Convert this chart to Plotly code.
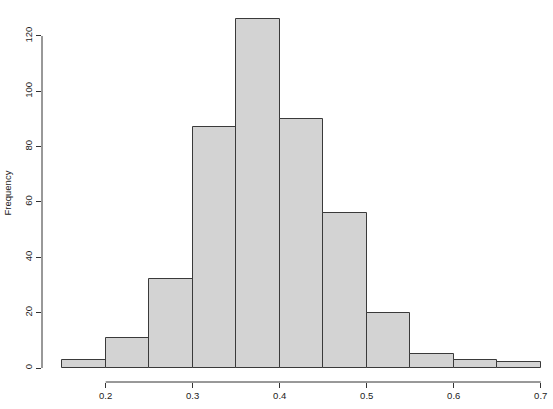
import plotly.graph_objects as go

bin_edges = [0.15, 0.20, 0.25, 0.30, 0.35, 0.40, 0.45, 0.50, 0.55, 0.60, 0.65, 0.70]
counts = [3, 11, 32, 87, 126, 90, 56, 20, 5, 3, 2]
x_ticks = [0.2, 0.3, 0.4, 0.5, 0.6, 0.7]
x_tick_labels = ["0.2", "0.3", "0.4", "0.5", "0.6", "0.7"]
y_ticks = [0, 20, 40, 60, 80, 100, 120]
y_label = "Frequency"

centers = [(a + b) / 2 for a, b in zip(bin_edges[:-1], bin_edges[1:])]
widths = [b - a for a, b in zip(bin_edges[:-1], bin_edges[1:])]

fig = go.Figure(go.Bar(
    x=centers, y=counts, width=widths,
    marker=dict(color="#D3D3D3", line=dict(color="#3a3a3a", width=1)),
    hoverinfo="skip",
))

font = dict(family="Liberation Sans, Arial, sans-serif", size=9.5, color="#222")

fig.update_layout(
    width=553, height=409,
    margin=dict(l=42, r=0, t=5, b=27),
    paper_bgcolor="white", plot_bgcolor="white",
    showlegend=False,
    font=font,
    bargap=0,
    xaxis=dict(range=[0.1268, 0.7141], tickvals=x_ticks, ticktext=x_tick_labels,
               ticks="outside", ticklen=5, tickcolor="#333", tickwidth=1,
               showgrid=False, zeroline=False, showline=False, tickfont=font,
               automargin=False),
    yaxis=dict(range=[-5.06, 131.2], tickvals=y_ticks, tickangle=-90,
               ticks="outside", ticklen=5, tickcolor="#333", tickwidth=1,
               showgrid=False, zeroline=False, showline=False, tickfont=font,
               automargin=False),
    shapes=[
        dict(type="line", xref="x", yref="paper", x0=x_ticks[0], x1=x_ticks[-1], y0=0, y1=0,
             line=dict(color="#333", width=1)),
        dict(type="line", xref="paper", yref="y", x0=0, x1=0, y0=y_ticks[0], y1=y_ticks[-1],
             line=dict(color="#333", width=1)),
    ],
    annotations=[
        dict(text=y_label, xref="paper", yref="paper", x=0, y=0.5, xshift=-35,
             textangle=-90, showarrow=False, font=font, xanchor="center", yanchor="middle"),
    ],
)

fig.write_html("out.html", config={"displayModeBar": False},
               post_script="document.body.style.margin='0';document.body.style.overflow='hidden';")
